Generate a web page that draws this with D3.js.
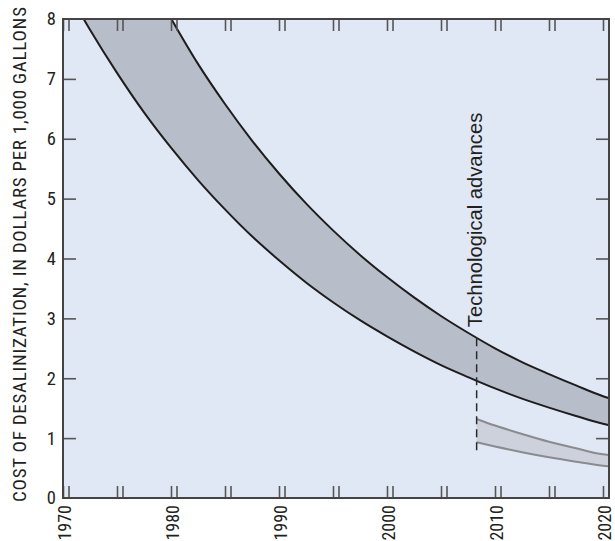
<!DOCTYPE html>
<html>
<head>
<meta charset="utf-8">
<script src="https://cdn.jsdelivr.net/npm/d3@7"></script>
<style>
  html, body { margin: 0; padding: 0; background: #ffffff; }
  svg { display: block; }
  .cond { font-family: "Liberation Sans Narrow", "Arial Narrow", "Roboto Condensed", sans-serif; }
</style>
</head>
<body>
<svg id="chart" width="615" height="541"></svg>
<script>
// ---- data ----
const bandYears = [1970, 1972.5, 1975, 1977.5, 1980, 1982.5, 1985, 1987.5, 1990, 1992.5, 1995, 1997.5,
                   2000, 2002.5, 2005, 2007.5, 2010, 2012.5, 2015, 2017.5, 2020, 2020.5];
// current technology, lower bound of cost range
const currentLow  = [8.61, 7.82, 7.10, 6.44, 5.85, 5.31, 4.82, 4.37, 3.97, 3.60, 3.27, 2.97,
                     2.70, 2.45, 2.22, 2.02, 1.83, 1.66, 1.51, 1.37, 1.24, 1.22];
// current technology, upper bound of cost range (values above 8 run off the chart)
const currentHigh = [11.8, 10.7, 9.73, 8.82, 8.01, 7.25, 6.58, 5.97, 5.42, 4.92, 4.47, 4.06,
                     3.69, 3.35, 3.04, 2.76, 2.50, 2.27, 2.07, 1.88, 1.70, 1.67];
// technological advances band
const advYears = [2008.3, 2010, 2012.5, 2015, 2017.5, 2020, 2020.5];
const advHigh  = [1.32, 1.21, 1.07, 0.94, 0.83, 0.73, 0.72];
const advLow   = [0.93, 0.86, 0.765, 0.68, 0.606, 0.54, 0.53];
const advYear  = 2008.3;
const advRange = [0.72, 2.67];

const xTicks = [1970, 1975, 1980, 1985, 1990, 1995, 2000, 2005, 2010, 2015, 2020];
const xLabels = [1970, 1980, 1990, 2000, 2010, 2020];
const yTicks = [0, 1, 2, 3, 4, 5, 6, 7, 8];

const yTitle = "COST OF DESALINIZATION, IN DOLLARS PER 1,000 GALLONS";
const advLabel = "Technological advances";

// ---- layout ----
const svg = d3.select("#chart");
const L = 63, R = 609, T = 19, B = 498;
const x = d3.scaleLinear().domain([1970, 2020]).range([L, 603]);
const y = d3.scaleLinear().domain([0, 8]).range([B, T]);

svg.append("defs").append("clipPath").attr("id", "plotclip")
  .append("rect").attr("x", L).attr("y", T).attr("width", R - L).attr("height", B - T);

// plot background
svg.append("rect").attr("x", L).attr("y", T).attr("width", R - L).attr("height", B - T)
  .attr("fill", "#e1e8f5");

const plot = svg.append("g").attr("clip-path", "url(#plotclip)");

const cur = bandYears.map((yr, i) => ({yr, lo: currentLow[i], hi: currentHigh[i]}));
const adv = advYears.map((yr, i) => ({yr, lo: advLow[i], hi: advHigh[i]}));

const curve = d3.curveMonotoneX;
const area = d3.area().x(d => x(d.yr)).y0(d => y(d.lo)).y1(d => y(d.hi)).curve(curve);
const lineLo = d3.line().x(d => x(d.yr)).y(d => y(d.lo)).curve(curve);
const lineHi = d3.line().x(d => x(d.yr)).y(d => y(d.hi)).curve(curve);

plot.append("path").datum(cur).attr("d", area).attr("fill", "#b8bec9");
plot.append("path").datum(adv).attr("d", area).attr("fill", "#ccd1dc");

plot.append("path").datum(adv).attr("d", lineHi).attr("fill", "none").attr("stroke", "#8a8b8d").attr("stroke-width", 2);
plot.append("path").datum(adv).attr("d", lineLo).attr("fill", "none").attr("stroke", "#8a8b8d").attr("stroke-width", 2);
plot.append("path").datum(cur).attr("d", lineHi).attr("fill", "none").attr("stroke", "#1e1c1d").attr("stroke-width", 2);
plot.append("path").datum(cur).attr("d", lineLo).attr("fill", "none").attr("stroke", "#1e1c1d").attr("stroke-width", 2);

// dashed line for technological advances
plot.append("line")
  .attr("x1", x(advYear)).attr("x2", x(advYear))
  .attr("y1", y(advRange[1])).attr("y2", y(advRange[0]))
  .attr("stroke", "#2a2a2a").attr("stroke-width", 1.5).attr("stroke-dasharray", "8,5");

// label
svg.append("text")
  .attr("transform", `translate(${x(advYear) + 5},${y(advRange[1]) - 11}) rotate(-90)`)
  .attr("font-family", "'Liberation Sans', Arial, sans-serif")
  .attr("font-size", 20.2)
  .attr("fill", "#231f20")
  .text(advLabel);

// ---- axes ----
const tickColor = "#555555";
function styleAxis(g) {
  g.select(".domain").remove();
  g.selectAll(".tick line").attr("stroke", tickColor).attr("stroke-width", 1.6);
}

// left axis with labels
const yLeft = svg.append("g").attr("transform", `translate(${L},0)`)
  .call(d3.axisLeft(y).tickValues(yTicks).tickSizeInner(-13).tickSizeOuter(0).tickPadding(7).tickFormat(d3.format("d")));
styleAxis(yLeft);
yLeft.selectAll(".tick text").attr("class", "cond").attr("font-size", 18.5).attr("fill", "#231f20");
yLeft.selectAll(".tick").filter(d => d === 0 || d === 8).select("line").remove();

// right axis ticks
const yRight = svg.append("g").attr("transform", `translate(${R},0)`)
  .call(d3.axisRight(y).tickValues(yTicks.filter(d => d > 0 && d < 8)).tickSizeInner(-13).tickSizeOuter(0).tickFormat(""));
styleAxis(yRight);

// bottom axis: ticks (first of each pair) with labels
const xBottom = svg.append("g").attr("transform", `translate(0,${B})`)
  .call(d3.axisBottom(x).tickValues(xTicks).tickSizeInner(-12).tickSizeOuter(0)
    .tickFormat(d => xLabels.includes(d) ? String(d) : ""));
styleAxis(xBottom);
xBottom.selectAll(".tick text")
  .attr("class", "cond")
  .attr("font-size", 18).attr("fill", "#231f20")
  .attr("transform", "rotate(-90)")
  .attr("x", -7).attr("y", 1).attr("dy", "0.35em")
  .attr("text-anchor", "end");

// second tick of each pair (bottom and top)
const pairOffset = 5.5;
const xPair = d3.scaleLinear().domain(x.domain()).range(x.range().map(v => v + pairOffset));
const xBottom2 = svg.append("g").attr("transform", `translate(0,${B})`)
  .call(d3.axisBottom(xPair).tickValues(xTicks).tickSizeInner(-12).tickSizeOuter(0).tickFormat(""));
styleAxis(xBottom2);

const xTop = svg.append("g").attr("transform", `translate(0,${T})`)
  .call(d3.axisTop(x).tickValues(xTicks).tickSizeInner(-12).tickSizeOuter(0).tickFormat(""));
styleAxis(xTop);
const xTop2 = svg.append("g").attr("transform", `translate(0,${T})`)
  .call(d3.axisTop(xPair).tickValues(xTicks).tickSizeInner(-12).tickSizeOuter(0).tickFormat(""));
styleAxis(xTop2);

// frame
svg.append("rect").attr("x", L).attr("y", T).attr("width", R - L).attr("height", B - T)
  .attr("fill", "none").attr("stroke", "#444444").attr("stroke-width", 2);

// y-axis title
svg.append("text")
  .attr("class", "cond")
  .attr("transform", `translate(26,254.5) rotate(-90)`)
  .attr("text-anchor", "middle")
  .attr("font-size", 19)
  .attr("fill", "#231f20")
  .attr("textLength", 495)
  .attr("lengthAdjust", "spacing")
  .text(yTitle);
</script>
</body>
</html>
